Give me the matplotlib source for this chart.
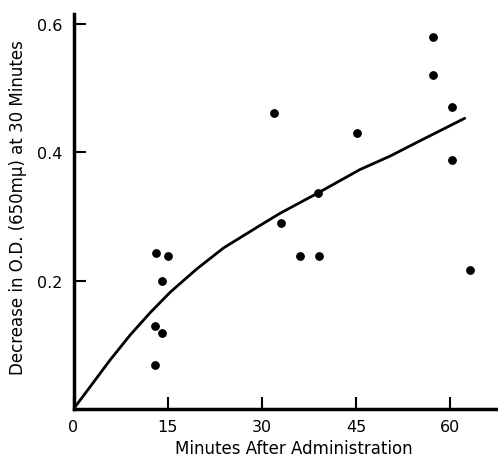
import matplotlib
matplotlib.use("Agg")
import matplotlib.pyplot as plt

# observed points (minutes, decrease in O.D.)
minutes = [13.1, 15.1, 14.1, 13.0, 14.1, 13.0, 32.0, 33.0, 36.1, 39.1,
           38.9, 45.1, 57.2, 57.2, 60.3, 60.2, 63.1]
od_drop = [0.243, 0.239, 0.199, 0.130, 0.118, 0.068, 0.461, 0.290, 0.238, 0.238,
           0.337, 0.430, 0.580, 0.520, 0.470, 0.388, 0.217]

# fitted curve
curve_x = [0, 2.6, 5.8, 9.0, 12.2, 15.4, 19.6, 23.9, 29.2, 32.9, 39.0, 45.6, 50.4, 55.2, 62.3]
curve_y = [0, 0.034, 0.076, 0.115, 0.150, 0.182, 0.218, 0.251, 0.283, 0.305, 0.337,
           0.373, 0.394, 0.418, 0.453]

fig = plt.figure(figsize=(4.98, 4.6), dpi=100)
ax = fig.add_axes([0.1476, 0.1087, 0.8524, 0.858])

ax.plot(curve_x, curve_y, color="black", lw=2.0, solid_joinstyle="round",
        solid_capstyle="round")
ax.scatter(minutes, od_drop, s=28, color="black", zorder=3)

ax.set_xlim(0, 67.6)
ax.set_ylim(0, 0.615)
ax.set_xticks([0, 15, 30, 45, 60])
ax.set_xticklabels(["0", "15", "30", "45", "60"])
ax.set_yticks([0.2, 0.4, 0.6])
ax.set_yticklabels(["0.2", "0.4", "0.6"])

for s in ["top", "right"]:
    ax.spines[s].set_visible(False)
for s in ["left", "bottom"]:
    ax.spines[s].set_linewidth(2.5)

ax.tick_params(axis="both", direction="in", length=8.5, width=1.5, labelsize=11.5)
ax.tick_params(axis="x", pad=7)
ax.tick_params(axis="y", pad=8)

fig.text(0.59, 0.024, "Minutes After Administration", ha="center", va="center", fontsize=12)
fig.text(0.036, 0.548, "Decrease in O.D. (650m\u03bc) at 30 Minutes", ha="center", va="center",
         rotation=90, fontsize=12)

fig.savefig("out.png", dpi=100)
